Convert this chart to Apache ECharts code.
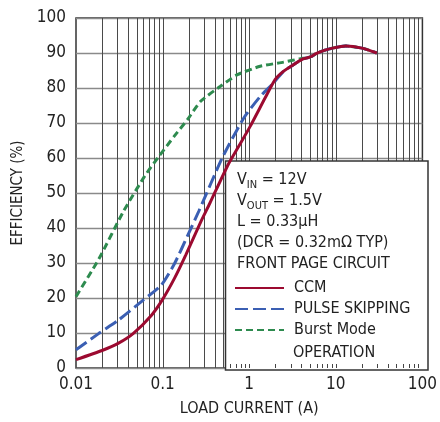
<!DOCTYPE html>
<html><head><meta charset="utf-8">
<script src="https://cdn.jsdelivr.net/npm/echarts@6/dist/echarts.min.js"></script>
<style>html,body{margin:0;padding:0;background:#fff}#c{width:440px;height:422px}</style>
</head><body><div id="c"></div>
<script>
const FONT = '"Liberation Sans Narrow","DejaVu Sans Condensed","Liberation Sans",sans-serif';

const xTickLabels = ['0.01', '0.1', '1', '10', '100'];
const xGridValues = [0.02,0.03,0.04,0.05,0.06,0.07,0.08,0.09,0.1,0.2,0.3,0.4,0.5,0.6,0.7,0.8,0.9,1,2,3,4,5,6,7,8,9,10,20,30,40,50,60,70,80,90];

const ccmX = [0.01,0.02,0.031,0.046,0.0745,0.1,0.137,0.186,0.275,0.35,0.563,0.76,1.03,1.53,1.99,2.5,3.22,4.17,4.8,5.2,5.9,7.5,9.16,13,20,29.8];
const ccmY = [2.4,5.0,7.1,9.9,15.1,19.6,25.6,32.4,41.7,47.0,57.8,63.4,69.1,77.2,82.4,84.8,86.6,88.3,88.7,89.0,89.8,90.8,91.4,92.0,91.4,90.0];

const pskX = [0.01,0.0184,0.031,0.0597,0.0966,0.137,0.203,0.264,0.49,0.87,1.34,1.9,2.5,3.22,4.17,4.8,5.2,5.9,7.5,9.16,13,20,29.8];
const pskY = [5.2,9.9,13.7,19.4,23.7,29.8,38.8,45,60.1,71.5,77.6,81.4,84.8,86.6,88.3,88.7,89.0,89.8,90.8,91.4,92.0,91.4,90.0];

const burstX = [0.01,0.0184,0.0354,0.0624,0.0885,0.137,0.194,0.275,0.465,0.73,1.34,2.5,3.8,4.8,5.2,5.9,7.5,9.16,13,20,29.8];
const burstY = [20.4,31.2,44.8,54.9,60.1,66.3,71.0,76.2,80.5,83.8,86.2,87.4,88.3,88.7,89.0,89.8,90.8,91.4,92.0,91.4,90.0];

const seriesNames = ['CCM', 'PULSE SKIPPING', 'Burst Mode'];
const boxLines = ['{n|V}{s|IN}{n| = 12V}', '{n|V}{s|OUT}{n| = 1.5V}', '{n|L = 0.33μH}', '{n|(DCR = 0.32mΩ TYP)}', '{n|FRONT PAGE CIRCUIT}'];

const zip = (a, b) => a.map((v, i) => [v, b[i]]);

const chart = echarts.init(document.getElementById('c'), null, {renderer: 'canvas'});
const G = {left: 76, top: 18, right: 12, bottom: 52};

const option = {
  animation: false,
  backgroundColor: '#fff',
  textStyle: {fontFamily: FONT},
  grid: {left: G.left, top: G.top, right: G.right, bottom: G.bottom, show: true, borderColor: '#333', borderWidth: 1.5, backgroundColor: 'transparent'},
  xAxis: {
    type: 'log', logBase: 10, min: 0.01, max: 100,
    axisLine: {show: false}, axisTick: {show: false}, splitLine: {show: false}, minorTick: {show: false},
    axisLabel: {color: '#222', fontSize: 17, fontFamily: FONT, margin: 8, showMaxLabel: true,
      formatter: v => xTickLabels[Math.round(Math.log10(v)) + 2]},
    name: 'LOAD CURRENT (A)', nameLocation: 'middle', nameGap: 33,
    nameTextStyle: {color: '#222', fontSize: 16, fontFamily: FONT}
  },
  yAxis: {
    type: 'value', min: 0, max: 100, interval: 10,
    axisLine: {show: false}, axisTick: {show: false},
    splitLine: {show: true, lineStyle: {color: '#8a8a8a', width: 1.3}},
    axisLabel: {color: '#222', fontSize: 17, fontFamily: FONT, margin: 10},
    name: 'EFFICIENCY (%)', nameLocation: 'middle', nameGap: 50,
    nameTextStyle: {color: '#222', fontSize: 15, fontFamily: FONT}
  },
  legend: {
    data: seriesNames, orient: 'vertical', left: 234, top: 280, padding: 0,
    itemWidth: 49, itemHeight: 14, itemGap: 5, selectedMode: false,
    itemStyle: {opacity: 0, borderWidth: 0},
    textStyle: {fontSize: 16, color: '#222', fontFamily: FONT, padding: [0, 0, 0, 5]}
  },
  graphic: [
    {type: 'rect', z: 1, shape: {x: 225.5, y: 161, width: 202.5, height: 209}, style: {fill: '#fff', stroke: '#333', lineWidth: 1.5}},
    {type: 'text', z: 5, left: 237, top: 172, style: {
      text: boxLines.join('\n'), fill: '#222',
      rich: {
        n: {fontSize: 16, fontFamily: FONT, lineHeight: 21, fill: '#222'},
        s: {fontSize: 11, fontFamily: FONT, lineHeight: 21, verticalAlign: 'bottom', fill: '#222', padding: [6, 0, 0, 0]}
      }
    }},
    {type: 'text', z: 5, left: 293, top: 345, style: {text: 'OPERATION', fontSize: 16, fontFamily: FONT, fill: '#222'}}
  ],
  series: [
    {
      type: 'custom', name: 'vgrid', z: 0, silent: true,
      data: xGridValues.map(v => [v, 0]),
      renderItem: (params, api) => {
        const a = api.coord([api.value(0), 0]);
        const b = api.coord([api.value(0), 100]);
        return {type: 'line', shape: {x1: Math.round(a[0]) + 0.5, y1: a[1], x2: Math.round(b[0]) + 0.5, y2: b[1]}, style: {stroke: '#4a4a4a', lineWidth: 1}};
      }
    },
    {
      type: 'custom', name: 'boxticks', z: 4, silent: true,
      data: xGridValues.filter(v => v > 0.5).map(v => [v, 0]),
      renderItem: (params, api) => {
        const a = api.coord([api.value(0), 0]);
        return {type: 'line', shape: {x1: Math.round(a[0]) + 0.5, y1: a[1], x2: Math.round(a[0]) + 0.5, y2: a[1] - 4}, style: {stroke: '#444', lineWidth: 1}};
      }
    },
    {name: 'Burst Mode', type: 'line', z: 2, data: zip(burstX, burstY), showSymbol: false, symbol: 'none', smooth: 0.2,
      lineStyle: {color: '#2e8b4f', width: 3, type: [7, 4]}, itemStyle: {color: '#2e8b4f'}},
    {name: 'PULSE SKIPPING', type: 'line', z: 3, data: zip(pskX, pskY), showSymbol: false, symbol: 'none', smooth: 0.2,
      lineStyle: {color: '#3b5fb3', width: 3, type: [13, 5]}, itemStyle: {color: '#3b5fb3'}},
    {name: 'CCM', type: 'line', z: 3, data: zip(ccmX, ccmY), showSymbol: false, symbol: 'none', smooth: 0.2,
      lineStyle: {color: '#9c0a30', width: 3}, itemStyle: {color: '#9c0a30'}}
  ]
};
chart.setOption(option);
</script>
</body></html>
